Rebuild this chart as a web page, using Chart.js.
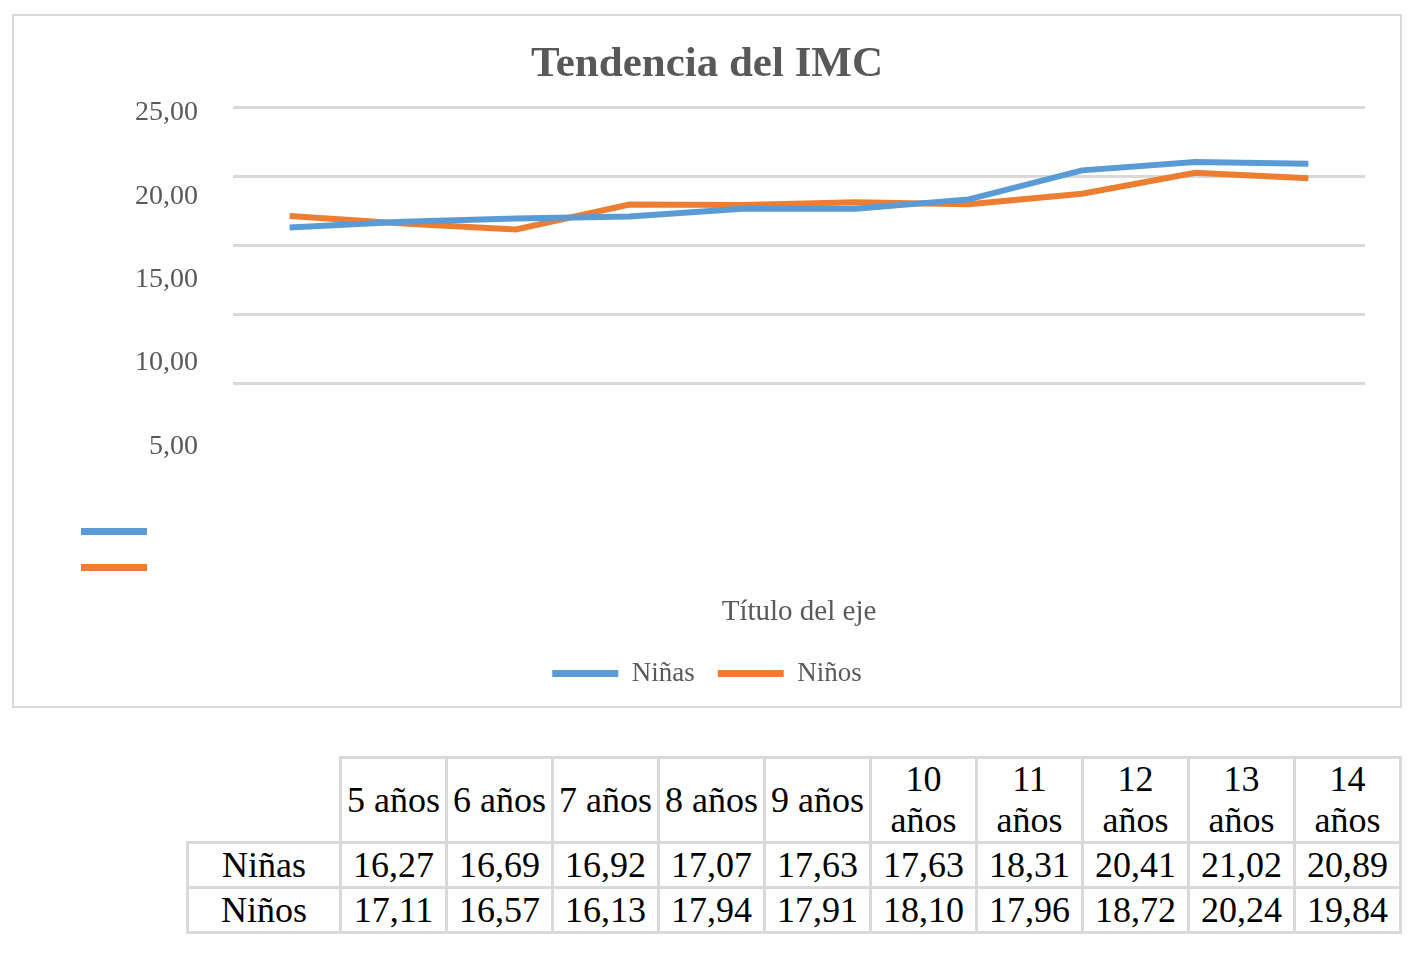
<!DOCTYPE html>
<html lang="es">
<head>
<meta charset="utf-8">
<title>Tendencia del IMC</title>
<script src="https://cdn.jsdelivr.net/npm/chart.js@4.4.1/dist/chart.umd.min.js"></script>
<style>
    body { margin: 0; background: #ffffff; font-family: 'Liberation Serif', 'Times New Roman', serif; }
    #chartBox {
        position: absolute; left: 12px; top: 14px;
        width: 1386px; height: 690px;
        border: 2px solid #d9d9d9; background: #ffffff;
    }
    #dataTable {
        position: absolute; left: 186px; top: 756px;
        border-collapse: collapse; table-layout: fixed;
        font-family: 'Liberation Serif', 'Times New Roman', serif;
        font-size: 36px; color: #000000;
    }
    #dataTable td {
        border: 3px solid #d9d9d9; text-align: center;
        padding: 0 2px;
    }
    #dataTable tr.head td { line-height: 41px; height: 82px; }
    #dataTable tr.row td { line-height: 42px; height: 42px; }
    #dataTable td.corner { border-top: none; border-left: none; }
</style>
</head>
<body>
<div id="chartBox"><canvas id="imcChart"></canvas></div>
<table id="dataTable"></table>

<script>
const categories = ['5 años', '6 años', '7 años', '8 años', '9 años', '10 años', '11 años', '12 años', '13 años', '14 años'];
const ninas = [16.27, 16.69, 16.92, 17.07, 17.63, 17.63, 18.31, 20.41, 21.02, 20.89];
const ninos = [17.11, 16.57, 16.13, 17.94, 17.91, 18.10, 17.96, 18.72, 20.24, 19.84];
const seriesNames = ['Niñas', 'Niños'];
const seriesColors = ['#5b9bd5', '#ed7d31'];

function formatNum(v) {
    return v.toFixed(2).replace('.', ',');
}

// tabla de datos debajo del gráfico
function buildTable() {
    const table = document.getElementById('dataTable');
    let html = '<colgroup><col style="width:153px">';
    categories.forEach(function () { html += '<col style="width:106px">'; });
    html += '</colgroup><tr class="head"><td class="corner"></td>';
    categories.forEach(function (c) { html += '<td>' + c + '</td>'; });
    html += '</tr>';
    [ninas, ninos].forEach(function (serie, i) {
        html += '<tr class="row"><td>' + seriesNames[i] + '</td>';
        serie.forEach(function (v) { html += '<td>' + formatNum(v) + '</td>'; });
        html += '</tr>';
    });
    table.innerHTML = html;
}

// restos de leyenda a la izquierda, como en la imagen original
const leftSwatches = {
    id: 'leftSwatches',
    afterDraw(chart) {
        const c = chart.ctx;
        c.save();
        chart.data.datasets.forEach(function (ds, i) {
            c.fillStyle = ds.borderColor;
            c.fillRect(67, 512 + i * 36, 66, 7);
        });
        c.restore();
    }
};

function createImcChart(ctx) {
    return new Chart(ctx, {
        type: 'line',
        data: {
            labels: categories,
            datasets: [
                {
                    label: seriesNames[0],
                    data: ninas,
                    borderColor: seriesColors[0],
                    backgroundColor: seriesColors[0],
                    borderWidth: 6,
                    pointRadius: 0,
                    tension: 0
                },
                {
                    label: seriesNames[1],
                    data: ninos,
                    borderColor: seriesColors[1],
                    backgroundColor: seriesColors[1],
                    borderWidth: 6,
                    pointRadius: 0,
                    tension: 0
                }
            ]
        },
        options: {
            responsive: true,
            maintainAspectRatio: false,
            animation: false,
            layout: { padding: { left: 0, right: 0, top: 0, bottom: 9 } },
            plugins: {
                tooltip: { enabled: false },
                title: {
                    display: true,
                    text: 'Tendencia del IMC',
                    color: '#595959',
                    font: { family: 'Liberation Serif', size: 43, weight: 'bold' },
                    padding: { top: 23, bottom: 16.4 }
                },
                legend: {
                    position: 'bottom',
                    labels: {
                        color: '#595959',
                        font: { family: 'Liberation Serif', size: 27 },
                        boxWidth: 66,
                        boxHeight: 7,
                        padding: 23,
                        generateLabels: function (chart) {
                            const items = Chart.defaults.plugins.legend.labels.generateLabels(chart);
                            items.forEach(function (it) { it.lineWidth = 0; });
                            return items;
                        }
                    }
                }
            },
            scales: {
                x: {
                    offset: true,
                    ticks: { display: false },
                    grid: { display: false },
                    border: { display: false },
                    title: {
                        display: true,
                        text: 'Título del eje',
                        color: '#595959',
                        font: { family: 'Liberation Serif', size: 29 },
                        padding: { top: 135, bottom: 7 }
                    }
                },
                y: {
                    position: 'left',
                    min: 0,
                    max: 25,
                    ticks: { display: false, stepSize: 5 },
                    border: { display: false },
                    grid: {
                        drawTicks: false,
                        lineWidth: 3,
                        color: function (c) { return c.tick && c.tick.value === 0 ? 'rgba(0,0,0,0)' : '#d9d9d9'; }
                    },
                    afterFit: function (scale) { scale.width = 0; }
                },
                yLabels: {
                    position: 'left',
                    min: 4.64,
                    max: 25.36,
                    grid: { display: false },
                    border: { display: false },
                    ticks: {
                        stepSize: 5,
                        includeBounds: false,
                        padding: 27,
                        color: '#595959',
                        font: { family: 'Liberation Serif', size: 28 },
                        callback: function (value) { return formatNum(value); }
                    },
                    afterFit: function (scale) { scale.width = 219; }
                },
                yRight: {
                    position: 'right',
                    min: 0,
                    max: 25,
                    ticks: { display: false },
                    grid: { display: false },
                    border: { display: false },
                    afterFit: function (scale) { scale.width = 35; }
                }
            }
        },
        plugins: [leftSwatches]
    });
}

buildTable();
createImcChart(document.getElementById('imcChart'));
</script>
</body>
</html>
